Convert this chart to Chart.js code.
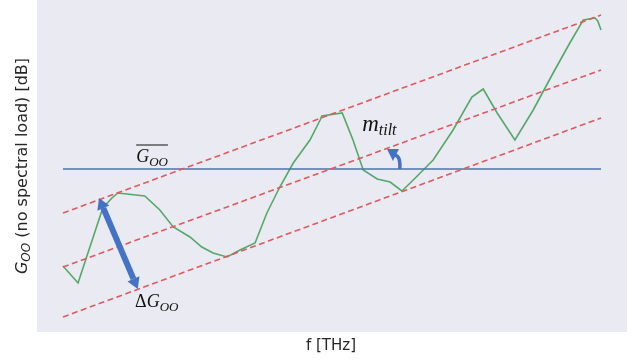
<!DOCTYPE html>
<html>
<head>
<meta charset="utf-8">
<script src="https://cdn.jsdelivr.net/npm/chart.js@4"></script>
<style>
  html, body { margin: 0; padding: 0; background: #ffffff; }
  #wrap { width: 639px; height: 360px; }
</style>
</head>
<body>
<div id="wrap"><canvas id="chart" width="639" height="360"></canvas></div>
<script>
// Frequency axis (arbitrary units, no ticks shown)
const freq = [0, 2.8, 7.4, 9.1, 10.2, 15.2, 18.0, 20.5, 23.6, 25.8, 27.9, 30.5, 32.9, 35.7,
  37.9, 40.3, 42.8, 45.9, 47.8, 48.1, 51.9, 53.9, 55.8, 58.4, 60.8, 63.0, 65.1, 68.8,
  72.5, 76.0, 78.1, 80.7, 84.0, 87.4, 91.1, 94.2, 96.7, 98.9, 99.4, 100];
// Gain without spectral load (arbitrary dB units)
const gain = [6.6, 4.9, 12.4, 13.4, 13.9, 13.6, 12.2, 10.5, 9.5, 8.5, 7.9, 7.5, 8.2, 8.9,
  11.9, 14.5, 16.9, 19.2, 21.2, 21.6, 21.9, 19.2, 16.2, 15.3, 15.0, 14.1, 15.2, 17.2,
  20.2, 23.5, 24.3, 21.9, 19.2, 22.2, 25.9, 28.9, 31.2, 31.4, 31.1, 30.2];
// Mean gain
const meanX = [0, 100];
const meanY = [16.3, 16.3];
// Tilt envelope lines (upper, centre, lower)
const tiltX = [0, 100];
const tiltUpper = [11.9, 31.7];
const tiltCentre = [6.5, 26.2];
const tiltLower = [1.5, 21.4];
// Annotations: ripple arrow and tilt arrow end points
const rippleArrow = [[6.7, 13.4], [13.9, 4.3]];
const tiltArrow = [[62.6, 16.3], [60.4, 18.2]];
// Label anchors
const labelMean = [13.6, 17.0];
const labelRipple = [13.4, 2.5];
const labelTilt = [55.6, 20.1];

const pts = (xs, ys) => xs.map((x, i) => ({ x: x, y: ys[i] }));

const annotate = {
  id: 'annotate',
  beforeDraw(chart) {
    const a = chart.chartArea, ctx = chart.ctx;
    ctx.save();
    ctx.fillStyle = '#eaeaf2';
    ctx.fillRect(a.left, a.top, a.right - a.left, a.bottom - a.top);
    ctx.restore();
  },
  afterDatasetsDraw(chart) {
    const ctx = chart.ctx, sx = chart.scales.x, sy = chart.scales.y;
    const P = p => [sx.getPixelForValue(p[0]), sy.getPixelForValue(p[1])];
    ctx.save();

    // double arrow for ripple
    const [x1, y1] = P(rippleArrow[0]), [x2, y2] = P(rippleArrow[1]);
    const ang = Math.atan2(y2 - y1, x2 - x1);
    const head = 11, hw = 6.5;
    ctx.strokeStyle = '#4472c4';
    ctx.fillStyle = '#4472c4';
    ctx.lineWidth = 6;
    ctx.beginPath();
    ctx.moveTo(x1 + Math.cos(ang) * head, y1 + Math.sin(ang) * head);
    ctx.lineTo(x2 - Math.cos(ang) * head, y2 - Math.sin(ang) * head);
    ctx.stroke();
    function tri(tx, ty, dir) {
      const bx = tx - Math.cos(dir) * head, by = ty - Math.sin(dir) * head;
      ctx.beginPath();
      ctx.moveTo(tx, ty);
      ctx.lineTo(bx + Math.sin(dir) * hw, by - Math.cos(dir) * hw);
      ctx.lineTo(bx - Math.sin(dir) * hw, by + Math.cos(dir) * hw);
      ctx.closePath();
      ctx.fill();
    }
    tri(x1, y1, ang + Math.PI);
    tri(x2, y2, ang);

    // curved tilt arrow
    const [bx0, by0] = P(tiltArrow[0]), [tx0, ty0] = P(tiltArrow[1]);
    ctx.lineWidth = 3.5;
    ctx.beginPath();
    ctx.moveTo(bx0, by0);
    ctx.quadraticCurveTo(bx0 + 1, ty0 + 5, tx0 + 6, ty0 + 5);
    ctx.stroke();
    ctx.beginPath();
    ctx.moveTo(tx0 - 1, ty0 - 1);
    ctx.lineTo(tx0 + 11, ty0 - 1);
    ctx.lineTo(tx0 + 5, ty0 + 11);
    ctx.closePath();
    ctx.fill();

    // math labels
    ctx.fillStyle = '#111111';
    ctx.textBaseline = 'alphabetic';
    function sub(p, main, subs, size, ratio) {
      let [px, py] = P(p);
      ctx.font = 'italic ' + size + 'px "Liberation Serif"';
      ctx.fillText(main, px, py);
      const w = ctx.measureText(main).width;
      ctx.font = 'italic ' + Math.round(size * ratio) + 'px "Liberation Serif"';
      ctx.fillText(subs, px + w, py + 4);
      return [px, py, w + ctx.measureText(subs).width];
    }
    const [mx, my, mw] = sub(labelMean, 'G', 'OO', 18, 0.72);
    ctx.strokeStyle = '#111111';
    ctx.lineWidth = 1;
    ctx.beginPath();
    ctx.moveTo(mx, my - 17);
    ctx.lineTo(mx + mw, my - 17);
    ctx.stroke();

    let [rx, ry] = P(labelRipple);
    ctx.font = '18px "Liberation Serif"';
    ctx.fillText('\u0394', rx, ry);
    const dw = ctx.measureText('\u0394').width;
    sub([sx.getValueForPixel(rx + dw), labelRipple[1]], 'G', 'OO', 18, 0.72);

    sub(labelTilt, 'm', 'tilt', 23, 0.68);

    // axis titles
    const a = chart.chartArea;
    ctx.fillStyle = '#262626';
    ctx.font = '15px "DejaVu Sans"';
    ctx.textAlign = 'center';
    ctx.fillText('f [THz]', (a.left + a.right) / 2 - 1, 350);

    ctx.save();
    ctx.translate(27, 166);
    ctx.rotate(-Math.PI / 2);
    ctx.textAlign = 'left';
    const rest = ' (no spectral load) [dB]';
    ctx.font = 'italic 16px "DejaVu Sans"';
    const gW = ctx.measureText('G').width;
    ctx.font = 'italic 12px "DejaVu Sans"';
    const oW = ctx.measureText('OO').width;
    ctx.font = '16px "DejaVu Sans"';
    const rW = ctx.measureText(rest).width;
    let cx = -(gW + oW + rW) / 2;
    ctx.font = 'italic 16px "DejaVu Sans"';
    ctx.fillText('G', cx, 0);
    cx += gW;
    ctx.font = 'italic 12px "DejaVu Sans"';
    ctx.fillText('OO', cx, 3);
    cx += oW;
    ctx.font = '16px "DejaVu Sans"';
    ctx.fillText(rest, cx, 0);
    ctx.restore();

    ctx.restore();
  }
};

const dashed = { borderColor: '#dd5a5e', borderWidth: 1.6, borderDash: [6, 3.5] };

new Chart(document.getElementById('chart'), {
  type: 'line',
  data: {
    datasets: [
      Object.assign({ data: pts(tiltX, tiltUpper) }, dashed),
      Object.assign({ data: pts(tiltX, tiltCentre) }, dashed),
      Object.assign({ data: pts(tiltX, tiltLower) }, dashed),
      { data: pts(meanX, meanY), borderColor: '#4c72b0', borderWidth: 1.6 },
      { data: pts(freq, gain), borderColor: '#55a868', borderWidth: 1.6 }
    ]
  },
  options: {
    responsive: false,
    animation: false,
    events: [],
    layout: { padding: { left: 37, right: 12, top: 0, bottom: 28 } },
    elements: { point: { radius: 0 }, line: { tension: 0 } },
    plugins: { legend: { display: false }, tooltip: { enabled: false } },
    scales: {
      x: { type: 'linear', display: false, min: -4.83, max: 104.83 },
      y: { type: 'linear', display: false, min: 0, max: 33.2 }
    }
  },
  plugins: [annotate]
});
</script>
</body>
</html>
